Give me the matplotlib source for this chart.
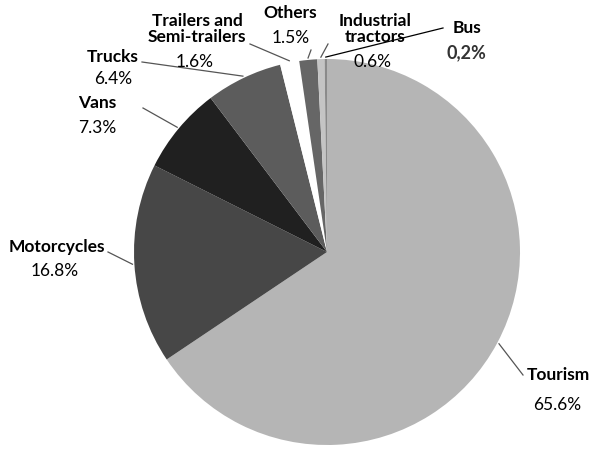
import matplotlib.pyplot as plt
import numpy as np

plt.rcParams['font.family'] = ['Lato', 'DejaVu Sans']

categories = ['Tourism', 'Motorcycles', 'Vans', 'Trucks', 'Trailers and\nSemi-trailers',
              'Others', 'Industrial\ntractors', 'Bus']
shares = [65.6, 16.8, 7.3, 6.4, 1.6, 1.5, 0.6, 0.2]
pct_labels = ['65.6%', '16.8%', '7.3%', '6.4%', '1.6%', '1.5%', '0.6%', '0,2%']
colors = ['#b5b5b5', '#474747', '#202020', '#5c5c5c', '#ffffff', '#666666', '#c4c4c4', '#8a8a8a']

W, H = 595, 458
fig = plt.figure(figsize=(W / 100, H / 100), dpi=100)
ax = fig.add_axes([0, 0, 1, 1])

cx, cy, R = 327, H - 252, 193
wedges, _ = ax.pie(shares, colors=colors, startangle=90, counterclock=False,
                   center=(cx, cy), radius=R, frame=True,
                   wedgeprops=dict(edgecolor='none', linewidth=0))
ax.set_xlim(0, W)
ax.set_ylim(0, H)
ax.axis('off')

# label anchors (name centre, pct centre, leader end) in pixel units from top-left
label_pos = [
    ((558, 375), (557, 405), (523, 375)),
    ((57, 247), (55, 271), (108, 252)),
    ((97, 103), (97, 128), (143, 108)),
    ((113, 57), (113, 79), (142, 62)),
    ((197, 29), (195, 62), (250, 44)),
    ((290, 13), (291, 38), (311, 50)),
    ((375, 29), (372, 62), (328, 44)),
    ((467, 28), (466, 53), (443, 28)),
]

for i, w in enumerate(wedges):
    ang = np.deg2rad((w.theta1 + w.theta2) / 2)
    x0 = cx + R * 1.01 * np.cos(ang)
    y0 = cy + R * 1.01 * np.sin(ang)
    (nx, ny), (px, py), (lx, ly) = label_pos[i]
    ax.plot([x0, lx], [y0, H - ly], color='#555555' if i != 7 else '#000000', lw=0.9)
    ax.text(nx, H - ny, categories[i], ha='center', va='center', fontsize=12.5,
            fontweight='bold', linespacing=0.95)
    if i == 7:
        ax.text(px, H - py, pct_labels[i], ha='center', va='center', fontsize=13,
                fontweight='bold', color='#333333')
    else:
        ax.text(px, H - py, pct_labels[i], ha='center', va='center', fontsize=12.5)

fig.savefig('out.png', dpi=100)
